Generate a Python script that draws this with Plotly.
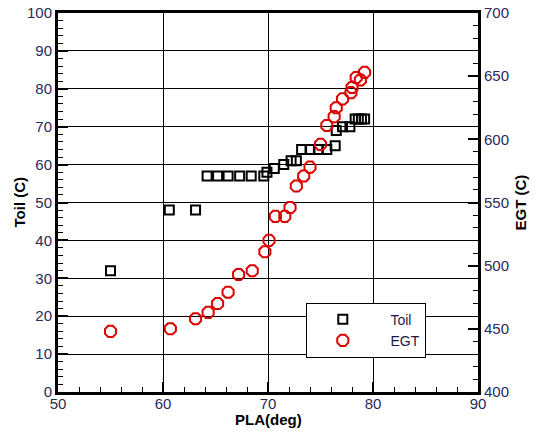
import plotly.graph_objects as go

# Data
toil_pla = [55.0, 60.6, 63.1, 64.2, 65.2, 66.2, 67.3, 68.4, 69.6, 69.9, 70.6, 71.5,
            72.2, 72.7, 73.2, 74.0, 74.8, 75.6, 76.4, 76.5, 77.1, 77.8, 78.3, 78.6, 78.9, 79.2]
toil_val = [32, 48, 48, 57, 57, 57, 57, 57, 57, 58, 59, 60,
            61, 61, 64, 64, 64, 64, 65, 69, 70, 70, 72, 72, 72, 72]

egt_pla = [55.0, 60.7, 63.1, 64.3, 65.2, 66.2, 67.2, 68.5, 69.7, 70.1, 70.7, 71.6, 72.1,
           72.7, 73.4, 74.0, 75.0, 75.6, 76.3, 76.5, 77.1, 77.9, 78.0, 78.4, 78.8, 79.2]
egt_val = [448, 450, 458, 463, 470, 479, 493, 496, 511, 520, 539, 539, 546,
           563, 571, 578, 596, 611, 618, 625, 632, 637, 641, 649, 647, 653]

series_names = ["Toil", "EGT"]
x_title = "PLA(deg)"
y_title = "Toil (C)"
y2_title = "EGT (C)"

FONT = "Liberation Sans, Arial, sans-serif"
tick_font = dict(family=FONT, size=15, color="#2a2a5a")
title_font = dict(family=FONT, size=15, color="black")
pad = "\u00a0" * 3

fig = go.Figure()
fig.add_trace(go.Scatter(
    x=toil_pla, y=toil_val, mode="markers", name=pad + series_names[0],
    marker=dict(symbol="square-open", size=9, color="black", line=dict(width=2, color="black")),
    yaxis="y"))
fig.add_trace(go.Scatter(
    x=egt_pla, y=egt_val, mode="markers", name=pad + series_names[1],
    marker=dict(symbol="octagon-open", size=12, color="#dd0000", line=dict(width=2, color="#dd0000")),
    yaxis="y2"))

fig.update_layout(
    width=539, height=433,
    margin=dict(l=58, r=61, t=13, b=41, autoexpand=False),
    paper_bgcolor="white", plot_bgcolor="white",
    showlegend=True,
    legend=dict(x=0.59, y=0.236, xanchor="left", yanchor="top",
                bgcolor="white", bordercolor="black", borderwidth=1,
                font=dict(family=FONT, size=14, color="#1a1a4a"),
                itemwidth=62, tracegroupgap=0),
    xaxis=dict(
        range=[50, 90], dtick=10, tick0=50, automargin=False,
        showgrid=True, gridcolor="black", gridwidth=1, zeroline=False,
        showline=True, linecolor="black", linewidth=3, mirror=True,
        ticks="inside", ticklen=10, tickwidth=2, tickcolor="black",
        minor=dict(dtick=2, ticks="inside", ticklen=5, tickwidth=1, tickcolor="black", showgrid=False),
        tickfont=tick_font, ticklabelstandoff=-4,
    ),
    yaxis=dict(
        range=[0, 100], dtick=10, tick0=0, automargin=False,
        showgrid=True, gridcolor="black", gridwidth=1, zeroline=False,
        showline=True, linecolor="black", linewidth=3, mirror=True,
        ticks="inside", ticklen=10, tickwidth=2, tickcolor="black",
        minor=dict(dtick=2, ticks="inside", ticklen=5, tickwidth=1, tickcolor="black", showgrid=False),
        tickfont=tick_font,
    ),
    yaxis2=dict(
        range=[400, 700], dtick=50, tick0=400, overlaying="y", side="right", automargin=False,
        showgrid=False, zeroline=False,
        showline=True, linecolor="black", linewidth=3,
        ticks="inside", ticklen=10, tickwidth=2, tickcolor="black",
        minor=dict(dtick=10, ticks="inside", ticklen=5, tickwidth=1, tickcolor="black", showgrid=False),
        tickfont=tick_font,
    ),
    annotations=[
        dict(text="<b>%s</b>" % x_title, xref="paper", yref="paper", x=0.5, y=0,
             xanchor="center", yanchor="middle", yshift=-27, showarrow=False, font=title_font),
        dict(text="<b>%s</b>" % y_title, xref="paper", yref="paper", x=0, y=0.5,
             xanchor="center", yanchor="middle", xshift=-39, textangle=-90,
             showarrow=False, font=title_font),
        dict(text="<b>%s</b>" % y2_title, xref="paper", yref="paper", x=1, y=0.5,
             xanchor="center", yanchor="middle", xshift=42, textangle=-90,
             showarrow=False, font=title_font),
    ],
)

fig.write_html("out.html", config={"displayModeBar": False},
               post_script="document.body.style.margin='0';")
